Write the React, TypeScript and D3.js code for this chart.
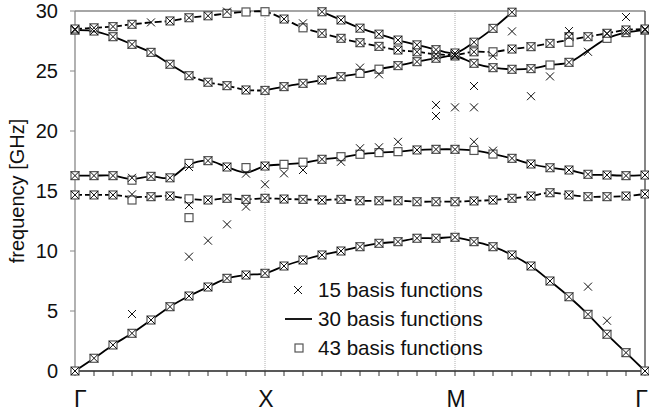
import React from "react";
import * as d3 from "d3";

const W = 649;
const H = 415;
const margin = { top: 11, right: 4, bottom: 44, left: 75 };
const FONT = "'Liberation Sans', Arial, sans-serif";

const kLabels = ["Γ", "X", "M", "Γ"];
const kLabelIdx = [0, 10, 20, 30];
const yTicks = [0, 5, 10, 15, 20, 25, 30];
const legendLabels = ["15 basis functions", "30 basis functions", "43 basis functions"];

// 30 basis functions: one array per band, 31 k-points along Γ → X → M → Γ
const band1 = [0, 1.06, 2.17, 3.14, 4.25, 5.36, 6.25, 7.0, 7.72, 8.0, 8.14, 8.75, 9.25, 9.67, 10.0, 10.36,
  10.64, 10.78, 11.06, 11.06, 11.14, 10.78, 10.36, 9.67, 8.75, 7.5, 6.19, 4.72, 3.06, 1.53, 0];
const band2 = [14.67, 14.67, 14.67, 14.5, 14.53, 14.58, 14.35, 14.25, 14.39, 14.3, 14.39, 14.33, 14.3, 14.25,
  14.3, 14.19, 14.19, 14.19, 14.11, 14.11, 14.11, 14.17, 14.25, 14.39, 14.58, 14.86, 14.67, 14.53, 14.53, 14.58, 14.75];
const band3 = [16.28, 16.28, 16.28, 16.0, 16.22, 16.1, 17.2, 17.53, 17.0, 16.55, 17.08, 17.22, 17.35, 17.64,
  17.8, 18.06, 18.2, 18.28, 18.42, 18.47, 18.47, 18.38, 18.08, 17.72, 17.25, 16.94, 16.75, 16.39, 16.33, 16.28, 16.33];
const band4 = [28.4, 28.33, 27.86, 27.22, 26.55, 25.56, 24.61, 24.06, 23.78, 23.42, 23.38, 23.7, 23.97, 24.25,
  24.53, 24.8, 25.15, 25.45, 25.78, 26.06, 26.25, 25.64, 25.28, 25.14, 25.2, 25.5, 25.72, 26.7, 27.72, 28.2, 28.4];
const band5 = [28.5, 28.6, 28.7, 28.89, 29.05, 29.17, 29.44, 29.6, 29.8, 29.92, 29.94, 29.33, 28.6, 28.14,
  27.72, 27.36, 27.05, 26.75, 26.6, 26.4, 26.35, 26.6, 26.6, 26.83, 27.03, 27.3, 27.6, 27.86, 28.14, 28.42, 28.5];
const band6 = [null, null, null, null, null, null, null, null, null, null, null, null, null, 29.94,
  29.25, 28.57, 28.07, 27.58, 27.18, 26.78, 26.5, 27.4, 28.55, 29.9, null, null, null, null, null, null, null];
const bands: (number | null)[][] = [band1, band2, band3, band4, band5, band6];

// where the 43-basis squares leave the 30-basis curve: [band, k, value]
const diff43: [number, number, number | null][] = [
  [1, 3, 14.25], [2, 3, 15.9], [2, 6, 17.3], [2, 9, 16.95], [2, 12, 17.4], [2, 14, 17.86],
  [3, 27, null], [4, 4, null], [4, 26, 27.86],
];
const extra43: [number, number][] = [[6, 12.78], [26, 27.39]];

// where the 15-basis crosses leave the 30-basis curve
const diff15: [number, number, number | null][] = [
  [1, 3, 14.72], [1, 6, null], [2, 3, 16.1], [2, 6, 17.0], [2, 9, 16.45], [2, 11, 16.47], [2, 12, 16.75],
  [2, 14, 17.44], [2, 15, 18.56], [2, 16, 18.64], [2, 17, 19.1], [2, 21, 19.1], [2, 22, 18.36],
  [3, 15, 25.28], [3, 16, 24.72], [3, 25, 24.55], [3, 27, 26.6], [3, 28, 28.1],
  [4, 8, 29.95], [4, 9, null], [4, 10, null], [4, 12, 28.97], [4, 22, 26.27], [4, 26, 27.86],
];
const extra15: [number, number][] = [
  [3, 4.75], [6, 9.53], [6, 13.83], [7, 10.86], [8, 12.22], [9, 13.7], [10, 15.56],
  [19, 22.17], [19, 21.25], [20, 21.97], [21, 23.75], [21, 21.97], [23, 28.3], [24, 22.9],
  [26, 28.33], [27, 7.03], [28, 4.19], [29, 29.5],
];

// line pieces per band: [from k, to k, dashed]
const segments: [number, number, boolean][][] = [
  [[0, 30, false]],
  [[0, 30, true]],
  [[0, 30, false]],
  [[0, 6, false], [6, 10, true], [10, 30, false]],
  [[0, 30, true]],
  [[13, 23, false]],
];

function points(diff: [number, number, number | null][], extra: [number, number][]) {
  const pts: [number, number][] = [];
  bands.forEach((b, bi) => {
    b.forEach((v, k) => {
      const d = diff.find((e) => e[0] === bi && e[1] === k);
      const val = d ? d[2] : v;
      if (val != null) pts.push([k, val]);
    });
  });
  return pts.concat(extra);
}

export default function App() {
  const x = d3.scaleLinear().domain([0, 30]).range([margin.left, W - margin.right]);
  const y = d3.scaleLinear().domain([0, 30]).range([H - margin.bottom, margin.top]);
  const x0 = x(0), x1 = x(30), y0 = y(0), y1 = y(30);

  const line = d3
    .line<[number, number | null]>()
    .defined((d) => d[1] != null)
    .x((d) => x(d[0]))
    .y((d) => y(d[1] as number))
    .curve(d3.curveCatmullRom.alpha(0.5));

  const pts43 = points(diff43, extra43);
  const pts15 = points(diff15, extra15);
  const s = 4; // half marker size
  const cross = (cx: number, cy: number, r = s) =>
    `M${cx - r},${cy - r}L${cx + r},${cy + r}M${cx - r},${cy + r}L${cx + r},${cy - r}`;

  return (
    <svg width={W} height={H} style={{ position: "absolute", left: 0, top: 0, fontFamily: FONT }}>
      <rect width={W} height={H} fill="#fff" />
      {/* X and M guide lines */}
      {[10, 20].map((k) => (
        <line key={k} x1={x(k)} x2={x(k)} y1={y1} y2={y0} stroke="#b0b0b0" strokeWidth={1} strokeDasharray="1,1" />
      ))}
      {/* frame */}
      <line x1={x0} x2={x1} y1={y1} y2={y1} stroke="#888" strokeWidth={1.3} />
      <line x1={x1} x2={x1} y1={y1} y2={y0} stroke="#444" strokeWidth={1.3} />
      <line x1={x0} x2={x0} y1={y1} y2={y0} stroke="#888" strokeWidth={1.3} />
      <line x1={x0} x2={x1} y1={y0} y2={y0} stroke="#222" strokeWidth={1.3} />
      {yTicks.map((t) => (
        <g key={t}>
          <line x1={x0 - 5} x2={x0} y1={y(t)} y2={y(t)} stroke="#888" />
          <text x={58} y={y(t)} dy="0.35em" textAnchor="end" fontSize={20} fill="#111">{t}</text>
        </g>
      ))}
      {d3.range(31).map((k) => (
        <line key={k} x1={x(k)} x2={x(k)} y1={y0} y2={y0 + 5} stroke="#333" />
      ))}
      {kLabels.map((l, i) => (
        <text key={i} x={i === 0 ? x0 - 1 : i === 3 ? x1 + 3 : x(kLabelIdx[i]) + 1} y={407}
          textAnchor={i === 0 ? "start" : i === 3 ? "end" : "middle"} fontSize={23} fill="#111">{l}</text>
      ))}
      <text transform="translate(24,191) rotate(-90)" textAnchor="middle" fontSize={20} fill="#111">
        frequency [GHz]
      </text>

      {/* 30 basis functions */}
      {bands.map((b, bi) =>
        segments[bi].map(([a, c, dashed], si) => (
          <path key={`${bi}-${si}`}
            d={line(b.slice(a, c + 1).map((v, i) => [a + i, v]) as [number, number | null][]) || ""}
            fill="none" stroke="#000" strokeWidth={1.8} strokeDasharray={dashed ? "7,3" : undefined} />
        ))
      )}
      {/* 43 basis functions */}
      {pts43.map(([k, v], i) => (
        <rect key={i} x={x(k) - s} y={y(v) - s} width={2 * s} height={2 * s} fill="#fff" stroke="#555" strokeWidth={1.2} />
      ))}
      {/* 15 basis functions */}
      {pts15.map(([k, v], i) => (
        <path key={i} d={cross(x(k), y(v))} stroke="#111" strokeWidth={1} fill="none" />
      ))}

      {/* legend */}
      <path d={cross(298, 290)} stroke="#111" strokeWidth={1} />
      <line x1={285} x2={312} y1={319} y2={319} stroke="#000" strokeWidth={1.8} />
      <rect x={295} y={344} width={8} height={8} fill="#fff" stroke="#555" strokeWidth={1.2} />
      {legendLabels.map((l, i) => (
        <text key={l} x={318} y={290 + i * 29} dy="0.36em" fontSize={20.6} fill="#111">{l}</text>
      ))}
    </svg>
  );
}
